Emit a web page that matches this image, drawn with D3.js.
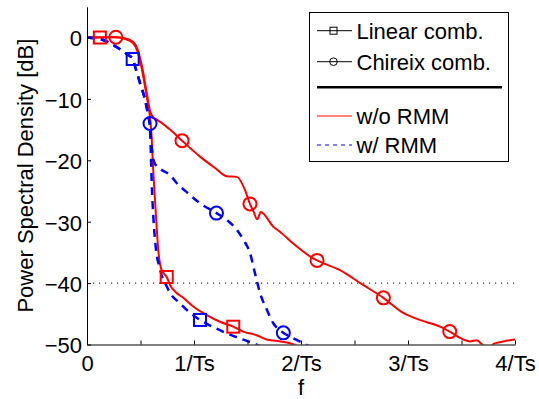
<!DOCTYPE html>
<html>
<head>
<meta charset="utf-8">
<script src="https://cdn.jsdelivr.net/npm/d3@7"></script>
<style>
  body { margin: 0; background: #fff; }
  svg text { font-family: "Liberation Sans", Arial, Helvetica, sans-serif; }
</style>
</head>
<body>
<div id="chart"></div>
<script>
// ---- data (f in 1/Ts, PSD in dB) ----
const linNoRmmF  = [0, 0.12, 0.25, 0.35, 0.43, 0.47, 0.511, 0.558, 0.589, 0.605, 0.614, 0.626, 0.645, 0.666, 0.698, 0.745, 0.776, 0.838, 0.90, 0.993, 1.12, 1.243, 1.367, 1.46, 1.586, 1.68, 1.77, 1.897, 1.99, 2.1];
const linNoRmmDb = [0, 0, 0.1, -0.2, -0.9, -2.2, -5.0, -9.6, -13.0, -16.5, -19.9, -23.7, -29.2, -34.6, -37.9, -39.0, -40.3, -41.6, -42.4, -43.8, -45.2, -46.3, -47.1, -47.9, -48.5, -49.2, -49.4, -49.8, -50.4, -51];

const chxNoRmmF  = [0, 0.12, 0.27, 0.35, 0.43, 0.47, 0.515, 0.56, 0.59, 0.615, 0.645, 0.698, 0.776, 0.888, 1.056, 1.20, 1.305, 1.40, 1.476, 1.523, 1.56, 1.59, 1.625, 1.66, 1.74, 1.80, 1.93, 2.08, 2.15, 2.364, 2.58, 2.77, 2.96, 3.11, 3.30, 3.39, 3.52, 3.58, 3.64, 3.70, 3.75, 3.80, 3.89, 4.0];
const chxNoRmmDb = [0, 0.05, 0.05, -0.1, -0.7, -1.8, -4.8, -9.2, -12.0, -12.9, -13.3, -13.9, -15.0, -16.8, -19.4, -21.3, -22.6, -22.7, -24.8, -27.1, -28.5, -29.6, -28.4, -28.9, -30.8, -31.6, -33.6, -35.6, -36.3, -37.9, -40.3, -42.4, -44.9, -46.0, -47.1, -47.9, -49.2, -49.5, -49.3, -50.1, -50.6, -49.9, -49.5, -49.2];

const linRmmF  = [0, 0.15, 0.29, 0.38, 0.427, 0.449, 0.495, 0.542, 0.575, 0.589, 0.597, 0.605, 0.62, 0.645, 0.676, 0.713, 0.73, 0.776, 0.87, 0.96, 1.056, 1.21, 1.336, 1.46, 1.555, 1.62, 1.7];
const linRmmDb = [0, -0.4, -1.7, -2.8, -3.5, -4.7, -7.4, -10.1, -13.0, -15.0, -19.0, -23.7, -29.2, -34.6, -37.3, -39.5, -40.0, -41.6, -43.3, -44.8, -46.0, -47.4, -48.4, -49.2, -49.8, -50.3, -51];

const chxRmmF  = [0, 0.15, 0.29, 0.38, 0.427, 0.449, 0.495, 0.542, 0.575, 0.589, 0.60, 0.612, 0.63, 0.66, 0.70, 0.776, 0.838, 0.946, 1.056, 1.21, 1.305, 1.40, 1.46, 1.523, 1.57, 1.617, 1.68, 1.74, 1.835, 1.93, 2.02, 2.1];
const chxRmmDb = [0, -0.4, -1.7, -2.8, -3.5, -4.7, -7.4, -10.1, -13.0, -14.0, -16.8, -19.0, -20.4, -21.1, -21.6, -22.4, -23.7, -25.4, -27.0, -28.6, -29.7, -31.3, -32.9, -35.1, -38.4, -41.6, -44.3, -46.5, -48.1, -49.0, -49.8, -50.5];

// marker positions
const linNoRmmMkF = [0.12, 0.745, 1.367];
const linNoRmmMkDb = [0, -39.0, -47.1];
const chxNoRmmMkF = [0.27, 0.888, 1.523, 2.15, 2.77, 3.39];
const chxNoRmmMkDb = [0.05, -16.8, -27.1, -36.3, -42.4, -47.9];
const linRmmMkF = [0.427, 1.056];
const linRmmMkDb = [-3.5, -46.0];
const chxRmmMkF = [0.589, 1.21, 1.835];
const chxRmmMkDb = [-14.0, -28.6, -48.1];

const xTicks = [0, 0.5, 1, 1.5, 2, 2.5, 3, 3.5, 4];
const xTickLabels = {0: "0", 1: "1/Ts", 2: "2/Ts", 3: "3/Ts", 4: "4/Ts"};
const yTicks = [0, -10, -20, -30, -40, -50];
const refLevel = -40;

const legendItems = ["Linear comb.", "Chireix comb.", "w/o RMM", "w/ RMM"];

// ---- canvas ----
const width = 539, height = 399;
const plotL = 87, plotR = 515, plotT = 6.8, plotB = 344.5;

const svg = d3.select("#chart").append("svg")
    .attr("width", width)
    .attr("height", height);

const x = d3.scaleLinear().domain([0, 4]).range([plotL, plotR]);
const y = d3.scaleLinear().domain([-50, 5]).range([plotB, plotT]);

svg.append("clipPath").attr("id", "plotclip")
  .append("rect")
    .attr("x", plotL).attr("y", plotT)
    .attr("width", plotR - plotL).attr("height", plotB - plotT);

// dotted -40 dB reference
svg.append("line")
    .attr("x1", x(0)).attr("x2", x(4))
    .attr("y1", y(refLevel)).attr("y2", y(refLevel))
    .attr("stroke", "#000")
    .attr("stroke-width", 1)
    .attr("stroke-dasharray", "1.2,4.8");

const zip = (fs, ds) => fs.map((f, i) => [f, ds[i]]);
const line = d3.line()
    .x(d => x(d[0]))
    .y(d => y(d[1]))
    .curve(d3.curveMonotoneX);

const series = [
  {pts: zip(linNoRmmF, linNoRmmDb), color: "#ff0000", dash: null, w: 2},
  {pts: zip(chxNoRmmF, chxNoRmmDb), color: "#ff0000", dash: null, w: 2},
  {pts: zip(linRmmF, linRmmDb), color: "#0000ff", dash: "8,6", w: 2.5},
  {pts: zip(chxRmmF, chxRmmDb), color: "#0000ff", dash: "8,6", w: 2.5}
];

const plot = svg.append("g").attr("clip-path", "url(#plotclip)");
series.forEach(s => {
  plot.append("path")
      .attr("d", line(s.pts))
      .attr("fill", "none")
      .attr("stroke", s.color)
      .attr("stroke-width", s.w)
      .attr("stroke-dasharray", s.dash);
});

// markers
function squares(fs, ds, color) {
  svg.append("g").selectAll("rect")
    .data(zip(fs, ds))
    .join("rect")
      .attr("x", d => x(d[0]) - 6)
      .attr("y", d => y(d[1]) - 6)
      .attr("width", 12).attr("height", 12)
      .attr("fill", "none")
      .attr("stroke", color)
      .attr("stroke-width", 2);
}
function circles(fs, ds, color) {
  svg.append("g").selectAll("circle")
    .data(zip(fs, ds))
    .join("circle")
      .attr("cx", d => x(d[0]))
      .attr("cy", d => y(d[1]))
      .attr("r", 6.5)
      .attr("fill", "none")
      .attr("stroke", color)
      .attr("stroke-width", 2);
}
squares(linNoRmmMkF, linNoRmmMkDb, "#ff0000");
circles(chxNoRmmMkF, chxNoRmmMkDb, "#ff0000");
squares(linRmmMkF, linRmmMkDb, "#0000ff");
circles(chxRmmMkF, chxRmmMkDb, "#0000ff");

// axes (ticks inward, no box)
const xAxis = d3.axisBottom(x)
    .tickValues(xTicks)
    .tickFormat(d => xTickLabels[d] || "")
    .tickSizeInner(-4)
    .tickSizeOuter(0)
    .tickPadding(11);
const xg = svg.append("g")
    .attr("transform", "translate(0," + plotB + ")")
    .call(xAxis);

const yAxis = d3.axisLeft(y)
    .tickValues(yTicks)
    .tickFormat(d => d3.format("")(d).replace("-", "\u2212"))
    .tickSizeInner(-4)
    .tickSizeOuter(0)
    .tickPadding(5);
const yg = svg.append("g")
    .attr("transform", "translate(" + plotL + ",0)")
    .call(yAxis);

[xg, yg].forEach(g => {
  g.selectAll("text").attr("font-size", 22).attr("fill", "#000")
      .style("font-family", "'Liberation Sans', Arial, sans-serif");
  g.select(".domain").attr("stroke", "#000").attr("stroke-width", 1);
  g.selectAll(".tick line").attr("stroke", "#000");
});
yg.selectAll("text").attr("dy", "0.38em");

// axis labels
svg.append("text")
    .attr("x", x(2))
    .attr("y", 395)
    .attr("text-anchor", "middle")
    .attr("font-size", 22)
    .text("f");

svg.append("text")
    .attr("transform", "rotate(-90)")
    .attr("x", -(plotT + plotB) / 2)
    .attr("y", 33)
    .attr("text-anchor", "middle")
    .attr("font-size", 22)
    .text("Power Spectral Density [dB]");

// legend
const lg = svg.append("g");
lg.append("rect")
    .attr("x", 309.5).attr("y", 12.5)
    .attr("width", 199).attr("height", 149)
    .attr("fill", "#fff")
    .attr("stroke", "#000")
    .attr("stroke-width", 1);

const lx1 = 317, lx2 = 352, tx = 356.5;
const rowY = [30.7, 61.7, 116, 145];

// Linear comb.
lg.append("line").attr("x1", lx1).attr("x2", lx2).attr("y1", rowY[0]).attr("y2", rowY[0])
    .attr("stroke", "#000").attr("stroke-width", 1);
lg.append("rect").attr("x", 333.5 - 3.5).attr("y", rowY[0] - 3.5).attr("width", 7).attr("height", 7)
    .attr("fill", "none").attr("stroke", "#000").attr("stroke-width", 1);
// Chireix comb.
lg.append("line").attr("x1", lx1).attr("x2", lx2).attr("y1", rowY[1]).attr("y2", rowY[1])
    .attr("stroke", "#000").attr("stroke-width", 1);
lg.append("circle").attr("cx", 333.5).attr("cy", rowY[1]).attr("r", 3.8)
    .attr("fill", "none").attr("stroke", "#000").attr("stroke-width", 1);
// separator
lg.append("line").attr("x1", lx1).attr("x2", 502).attr("y1", 87.3).attr("y2", 87.3)
    .attr("stroke", "#000").attr("stroke-width", 2.5);
// w/o RMM
lg.append("line").attr("x1", lx1).attr("x2", lx2).attr("y1", rowY[2]).attr("y2", rowY[2])
    .attr("stroke", "#ff0000").attr("stroke-width", 1);
// w/ RMM
lg.append("line").attr("x1", lx1).attr("x2", lx2).attr("y1", rowY[3]).attr("y2", rowY[3])
    .attr("stroke", "#0000ff").attr("stroke-width", 1).attr("stroke-dasharray", "4,4");

legendItems.forEach((t, i) => {
  lg.append("text")
      .attr("x", tx)
      .attr("y", rowY[i] + 7.8)
      .attr("font-size", 22)
      .text(t);
});
</script>
</body>
</html>
